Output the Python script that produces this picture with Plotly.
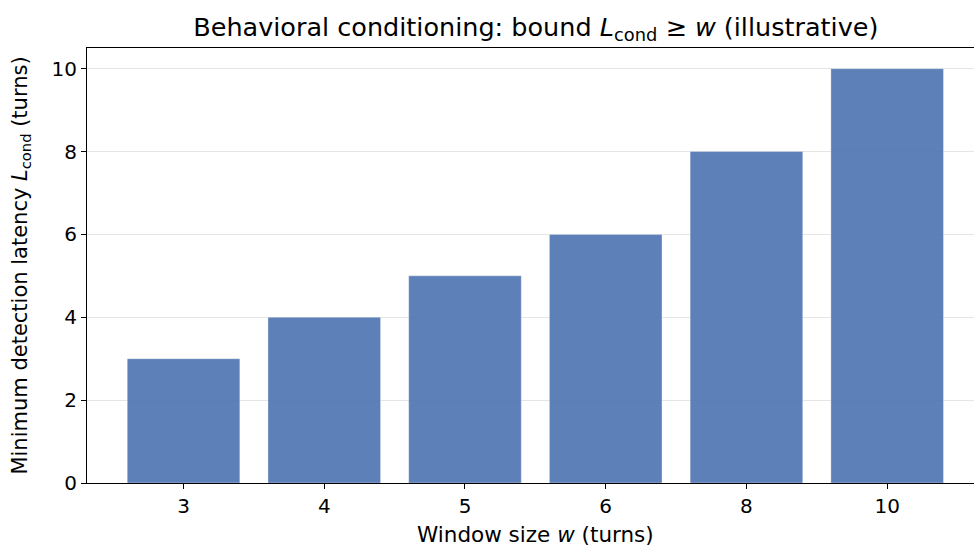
import plotly.graph_objects as go

window_sizes = ["3", "4", "5", "6", "8", "10"]
latency = [3, 4, 5, 6, 8, 10]
y_ticks = [0, 2, 4, 6, 8, 10]

fig = go.Figure()
fig.add_trace(go.Bar(
    x=window_sizes, y=latency, width=0.8,
    marker=dict(color="rgba(76,114,176,0.9)", line=dict(width=0.8, color="rgba(255,255,255,0.4)")),
))

font = "DejaVu Sans, sans-serif"
fig.update_layout(
    width=974, height=546,
    margin=dict(l=87, r=0, t=48, b=63),
    paper_bgcolor="white", plot_bgcolor="white",
    showlegend=False,
    font=dict(family=font, color="black", size=20),
    title=dict(text="Behavioral conditioning: bound <i>L</i><sub>cond</sub> ≥ <i>w</i> (illustrative)",
               x=0.506, xref="paper", xanchor="center", y=0.951, yanchor="middle",
               font=dict(size=25.5, family=font)),
    bargap=0.2,
)
fig.add_annotation(
    text="Window size <i>w</i> (turns)", xref="paper", yref="paper",
    x=0.506, y=-0.119, xanchor="center", yanchor="middle",
    showarrow=False, font=dict(size=21.5, family=font, color="black"),
)
fig.update_xaxes(
    type="category", range=[-0.686, 5.617],
    showline=True, linecolor="black", linewidth=1.2, mirror=True,
    ticks="outside", ticklen=5, tickwidth=1, tickcolor="black",
    showgrid=False,
    tickfont=dict(size=20),
)
fig.update_yaxes(
    range=[0, 10.5], tickvals=y_ticks,
    showline=True, linecolor="black", linewidth=1.2,
    ticks="outside", ticklen=5, tickwidth=1, tickcolor="black",
    showgrid=True, gridcolor="rgba(0,0,0,0.1)", gridwidth=1,
    zeroline=False,
    title=dict(text="Minimum detection latency <i>L</i><sub>cond</sub> (turns)", font=dict(size=21), standoff=18),
    tickfont=dict(size=20),
)
fig.write_html("out.html", post_script="document.body.style.margin='0';",
               config={"displayModeBar": False})
